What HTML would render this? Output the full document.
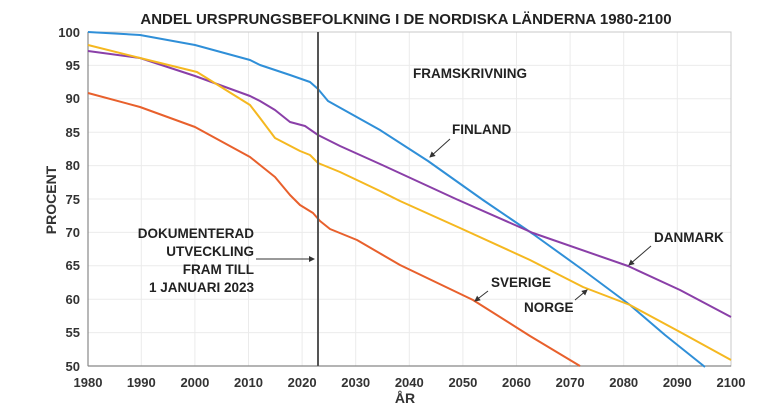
<!DOCTYPE html>
<html><head><meta charset="utf-8"><style>
html,body{margin:0;padding:0;background:#fff;}
svg{display:block;font-family:"Liberation Sans",Arial,sans-serif;font-weight:bold;}
</style></head><body>
<svg width="760" height="404" viewBox="0 0 760 404" xmlns="http://www.w3.org/2000/svg">
<defs><marker id="ah" markerWidth="6" markerHeight="6" refX="5" refY="3" orient="auto"><path d="M0,0 L6,3 L0,6 z" fill="#333"/></marker></defs>
<g stroke="#ebebeb" stroke-width="1">
<line x1="141.3" y1="32" x2="141.3" y2="366"/><line x1="194.9" y1="32" x2="194.9" y2="366"/><line x1="248.5" y1="32" x2="248.5" y2="366"/><line x1="302.1" y1="32" x2="302.1" y2="366"/><line x1="355.7" y1="32" x2="355.7" y2="366"/><line x1="409.3" y1="32" x2="409.3" y2="366"/><line x1="462.9" y1="32" x2="462.9" y2="366"/><line x1="516.5" y1="32" x2="516.5" y2="366"/><line x1="570.1" y1="32" x2="570.1" y2="366"/><line x1="623.7" y1="32" x2="623.7" y2="366"/><line x1="677.3" y1="32" x2="677.3" y2="366"/>
<line x1="88" y1="65.4" x2="731" y2="65.4"/><line x1="88" y1="98.8" x2="731" y2="98.8"/><line x1="88" y1="132.2" x2="731" y2="132.2"/><line x1="88" y1="165.6" x2="731" y2="165.6"/><line x1="88" y1="199" x2="731" y2="199"/><line x1="88" y1="232.4" x2="731" y2="232.4"/><line x1="88" y1="265.8" x2="731" y2="265.8"/><line x1="88" y1="299.2" x2="731" y2="299.2"/><line x1="88" y1="332.6" x2="731" y2="332.6"/>
</g>
<rect x="88" y="32" width="643" height="334" fill="none" stroke="#c8c8c8" stroke-width="1"/>
<line x1="88" y1="32" x2="88" y2="366" stroke="#888" stroke-width="1.2"/>
<line x1="88" y1="366" x2="731" y2="366" stroke="#888" stroke-width="1.2"/>
<g fill="none" stroke-width="2" stroke-linejoin="round">
<polyline stroke="#2f8fd8" points="88,32 140,35 195,45 250,60 260,65 290,75 310,82 318,89 328,101 380,130 428,161 483,200 533,234 583,270 630,305 665,335 705,367"/>
<polyline stroke="#8a3fa8" points="88,51 140,58 195,76 250,96 260,101 275,110 290,122 305,126 318,135 340,146 380,164 456,199 533,233 628,266 680,290 731,317"/>
<polyline stroke="#f5b820" points="88,45 140,58 197,72 250,105 260,118 275,138 300,151 310,155 318,163 340,172 380,191 400,201 460,228 530,260 583,287 630,305 680,332 731,360"/>
<polyline stroke="#e8602c" points="88,93 140,107 195,127 250,157 260,165 275,177 290,195 300,205 313,213 320,221 330,229 357,240 400,265 473,300 530,336 580,366"/>
</g>
<line x1="318" y1="32" x2="318" y2="366" stroke="#555" stroke-width="2"/>
<g font-size="13" fill="#333" text-anchor="end">
<text x="80" y="37">100</text><text x="80" y="70">95</text><text x="80" y="103">90</text><text x="80" y="137">85</text><text x="80" y="170">80</text><text x="80" y="204">75</text><text x="80" y="237">70</text><text x="80" y="270">65</text><text x="80" y="304">60</text><text x="80" y="337">55</text><text x="80" y="371">50</text>
</g>
<g font-size="13" fill="#333" text-anchor="middle">
<text x="88" y="387">1980</text><text x="141.3" y="387">1990</text><text x="194.9" y="387">2000</text><text x="248.5" y="387">2010</text><text x="302.1" y="387">2020</text><text x="355.7" y="387">2030</text><text x="409.3" y="387">2040</text><text x="462.9" y="387">2050</text><text x="516.5" y="387">2060</text><text x="570.1" y="387">2070</text><text x="623.7" y="387">2080</text><text x="677.3" y="387">2090</text><text x="731" y="387">2100</text>
<text x="405" y="403" font-size="14">ÅR</text>
<text x="406" y="24" font-size="15" fill="#222">ANDEL URSPRUNGSBEFOLKNING I DE NORDISKA LÄNDERNA 1980-2100</text>
<text transform="translate(56,200) rotate(-90)" font-size="14">PROCENT</text>
</g>
<g font-size="13.5" fill="#222">
<text x="413" y="78">FRAMSKRIVNING</text>
<text x="452" y="134">FINLAND</text>
<text x="654" y="242">DANMARK</text>
<text x="491" y="287">SVERIGE</text>
<text x="524" y="312">NORGE</text>
<g text-anchor="end"><text x="254" y="238">DOKUMENTERAD</text><text x="254" y="256">UTVECKLING</text><text x="254" y="274">FRAM TILL</text><text x="254" y="292">1 JANUARI 2023</text></g>
</g>
<g stroke="#333" stroke-width="1" marker-end="url(#ah)">
<line x1="450" y1="139" x2="430" y2="157"/>
<line x1="651" y1="246" x2="629" y2="265"/>
<line x1="488" y1="291" x2="475" y2="301"/>
<line x1="575" y1="300" x2="587" y2="290"/>
<line x1="256" y1="259" x2="314" y2="259"/>
</g>
</svg>
</body></html>
